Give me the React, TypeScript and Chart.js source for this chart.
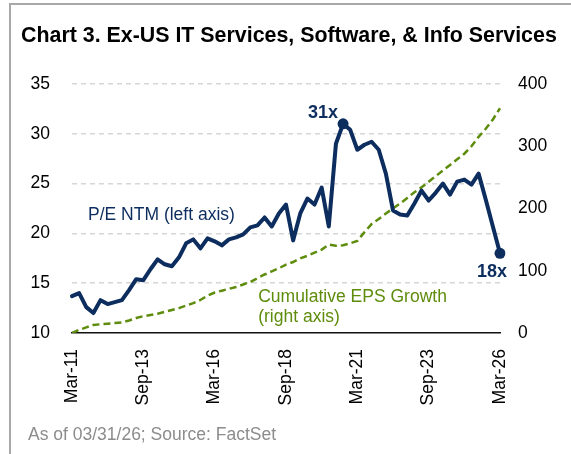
import React, { useEffect, useRef } from 'react';
import { Chart, registerables } from 'chart.js';

Chart.register(...registerables);

// ---------- data ----------
const quarterMonths = ['Mar', 'Jun', 'Sep', 'Dec'];
const categories: string[] = [];
for (let yr = 2011; yr <= 2026; yr++) {
  for (const m of quarterMonths) {
    if (yr === 2026 && m !== 'Mar') break;
    categories.push(`${m}-${String(yr % 100).padStart(2, '0')}`);
  }
}

const xTickLabels = ['Mar-11', 'Sep-13', 'Mar-16', 'Sep-18', 'Mar-21', 'Sep-23', 'Mar-26'];

// P/E NTM (left axis)
const peValues = [
  13.7, 14.0, 12.6, 12.0, 13.3, 12.9, 13.1, 13.3, 14.3, 15.4,
  15.3, 16.4, 17.4, 16.9, 16.7, 17.6, 19.0, 19.4, 18.5, 19.5,
  19.2, 18.8, 19.4, 19.6, 19.9, 20.6, 20.8, 21.6, 20.7, 22.0,
  22.9, 19.3, 22.0, 23.5, 22.9, 24.6, 20.7, 29.0, 31.0, 30.4,
  28.4, 28.9, 29.2, 28.4, 26.0, 22.3, 21.9, 21.8, 23.0, 24.3,
  23.3, 24.1, 25.0, 23.9, 25.2, 25.4, 24.9, 26.0, 23.4, 20.7,
  18.0,
];

// Cumulative EPS growth (right axis)
const epsValues = [
  0, 5, 9, 13, 14, 15, 16, 17, 20, 24,
  27, 29, 31, 34, 37, 40, 44, 48, 53, 60,
  65, 68, 71, 74, 78, 82, 88, 94, 99, 104,
  110, 114, 120, 124, 129, 134, 142, 140, 141, 144,
  148, 162, 175, 183, 192, 200, 208, 217, 226, 234,
  243, 252, 261, 270, 279, 288, 300, 315, 328, 343,
  361,
];

const leftTicks = { min: 10, max: 35, step: 5 };
const rightTicks = { min: 0, max: 400, step: 100 };

const titleText = 'Chart 3. Ex-US IT Services, Software, & Info Services';
const footText = 'As of 03/31/26; Source: FactSet';
const peLabel = 'P/E NTM (left axis)';
const epsLabel1 = 'Cumulative EPS Growth';
const epsLabel2 = '(right axis)';

// ---------- styles ----------
const NAVY = '#0c2d5e';
const GREEN = '#5e8c0c';
const FONT = "'Liberation Sans', Arial, Helvetica, sans-serif";

const peakIndex = peValues.indexOf(Math.max(...peValues));
const lastIndex = peValues.length - 1;

const overlayPlugin = {
  id: 'overlay',
  afterDraw(chart: any) {
    const { ctx, scales } = chart;
    const xs = scales.x;
    const ys = scales.y;
    const ys2 = scales.y2;
    ctx.save();

    // frame
    ctx.strokeStyle = '#a8a8a8';
    ctx.lineWidth = 2;
    ctx.beginPath();
    ctx.moveTo(10, chart.height);
    ctx.lineTo(10, 4);
    ctx.lineTo(chart.width, 4);
    ctx.stroke();

    // title
    ctx.fillStyle = '#000';
    ctx.textAlign = 'left';
    ctx.textBaseline = 'alphabetic';
    let fs = 21;
    ctx.font = `bold ${fs}px ${FONT}`;
    const w = ctx.measureText(titleText).width;
    fs = fs * 536 / w;
    ctx.font = `bold ${fs}px ${FONT}`;
    ctx.fillText(titleText, 21, 42);

    // footnote
    ctx.fillStyle = '#8c8c8c';
    ctx.font = `17.5px ${FONT}`;
    ctx.fillText(footText, 28, 440);

    // series labels
    ctx.fillStyle = NAVY;
    ctx.font = `17.5px ${FONT}`;
    ctx.textBaseline = 'middle';
    ctx.fillText(peLabel, xs.getPixelForValue(2.25), ys.getPixelForValue(21.85));

    ctx.fillStyle = GREEN;
    ctx.fillText(epsLabel1, xs.getPixelForValue(26.1), ys2.getPixelForValue(58));
    ctx.fillText(epsLabel2, xs.getPixelForValue(26.1), ys2.getPixelForValue(25.5));

    // point labels
    ctx.fillStyle = NAVY;
    ctx.font = `bold 18px ${FONT}`;
    ctx.textBaseline = 'alphabetic';
    const px = xs.getPixelForValue(peakIndex);
    const py = ys.getPixelForValue(peValues[peakIndex]);
    ctx.textAlign = 'right';
    ctx.fillText(`${Math.round(peValues[peakIndex])}x`, px - 5, py - 6);
    const lx = xs.getPixelForValue(lastIndex);
    const ly = ys.getPixelForValue(peValues[lastIndex]);
    ctx.textAlign = 'center';
    ctx.fillText(`${Math.round(peValues[lastIndex])}x`, lx - 8, ly + 24);

    ctx.restore();
  },
};

export default function App() {
  const ref = useRef<HTMLCanvasElement>(null);

  useEffect(() => {
    const canvas = ref.current;
    if (!canvas) return;
    const chart = new Chart(canvas, {
      type: 'line',
      data: {
        labels: categories,
        datasets: [
          {
            label: 'P/E NTM',
            data: peValues,
            yAxisID: 'y',
            borderColor: NAVY,
            backgroundColor: NAVY,
            borderWidth: 4,
            borderJoinStyle: 'round',
            borderCapStyle: 'round',
            pointRadius: peValues.map((_, i) => (i === peakIndex || i === lastIndex ? 5.5 : 0)),
            pointBackgroundColor: NAVY,
            pointBorderWidth: 0,
            tension: 0,
          },
          {
            label: 'Cumulative EPS Growth',
            data: epsValues,
            yAxisID: 'y2',
            borderColor: GREEN,
            borderWidth: 2.5,
            borderDash: [7, 4],
            pointRadius: 0,
            tension: 0,
          },
        ],
      },
      options: {
        responsive: false,
        animation: false,
        layout: { padding: { top: 84, left: 0, right: 0, bottom: 0 } },
        plugins: {
          legend: { display: false },
          tooltip: { enabled: false },
          title: { display: false },
        },
        scales: {
          x: {
            type: 'category',
            grid: { display: false, drawTicks: false },
            border: { display: true, color: '#111', width: 1.5 },
            ticks: {
              autoSkip: false,
              maxRotation: 90,
              minRotation: 90,
              padding: 16,
              color: '#000',
              font: { family: FONT, size: 17.5 },
              callback: (_v: any, i: number) =>
                xTickLabels.includes(categories[i]) ? categories[i] : '',
            },
            afterFit: (s: any) => {
              s.height = 121;
            },
          },
          y: {
            position: 'left',
            min: leftTicks.min,
            max: leftTicks.max,
            grid: {
              drawTicks: false,
              lineWidth: 1.5,
              color: (c: any) => (c.tick && c.tick.value === leftTicks.min ? 'rgba(0,0,0,0)' : '#d6d6d6'),
            },
            border: { display: false, dash: [5, 4] },
            ticks: {
              stepSize: leftTicks.step,
              padding: 22,
              color: '#000',
              font: { family: FONT, size: 17.5 },
            },
            afterFit: (s: any) => {
              s.width = 72;
            },
          },
          y2: {
            position: 'right',
            min: rightTicks.min,
            max: rightTicks.max,
            grid: { display: false, drawTicks: false },
            border: { display: false },
            ticks: {
              stepSize: rightTicks.step,
              padding: 18,
              color: '#000',
              font: { family: FONT, size: 17.5 },
            },
            afterFit: (s: any) => {
              s.width = 71;
            },
          },
        },
      },
      plugins: [overlayPlugin],
    });
    return () => chart.destroy();
  }, []);

  return (
    <div style={{ position: 'fixed', left: 0, top: 0, width: 571, height: 454, background: '#fff' }}>
      <canvas ref={ref} width={571} height={454} />
    </div>
  );
}
